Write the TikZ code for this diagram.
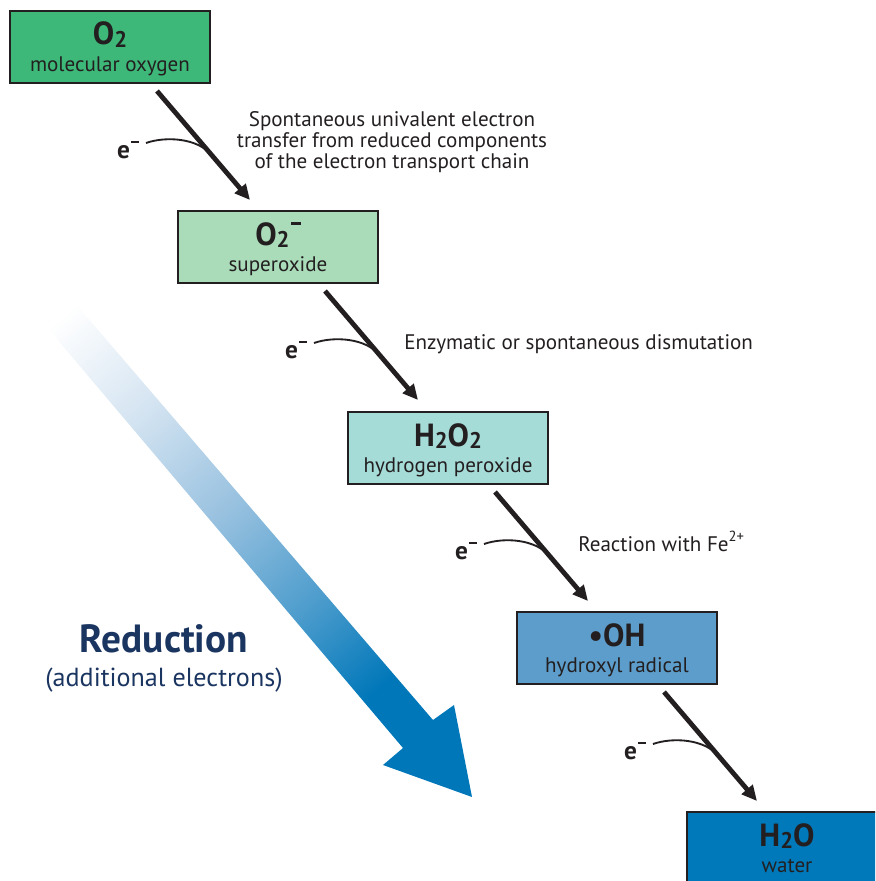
\documentclass[tikz,border=0pt]{standalone}
\usepackage{fontspec}
\setmainfont{PT Sans}
\usetikzlibrary{arrows.meta,calc}
\definecolor{boxA}{HTML}{3DB879}
\definecolor{boxB}{HTML}{AADCBA}
\definecolor{boxC}{HTML}{A6DCD8}
\definecolor{boxD}{HTML}{5D9DCB}
\definecolor{boxE}{HTML}{0079BA}
\definecolor{boxline}{HTML}{231F20}
\definecolor{ink}{HTML}{231F20}
\definecolor{navy}{HTML}{1B3561}
\definecolor{redblue}{HTML}{0077B9}
\definecolor{redA}{HTML}{D6E5F2}
\definecolor{redB}{HTML}{96C0DF}
\definecolor{redC}{HTML}{4E9DCD}
\pgfdeclarehorizontalshading{redshade}{100bp}{color(0bp)=(white); color(17bp)=(white); color(30bp)=(redA); color(45bp)=(redB); color(58bp)=(redC); color(70bp)=(redblue); color(100bp)=(redblue)}
\newcommand{\chemsub}[1]{\raisebox{-0.08em}{\fontsize{17}{17}\selectfont #1}}
\newcommand{\chemminus}{\kern0.05em\raisebox{0.62em}{\rule{0.3em}{0.09em}}}
\newcommand{\smallsup}[1]{\raisebox{0.45em}{\fontsize{11}{11}\selectfont #1}}
\tikzset{
  specbox/.style={draw=boxline, line width=1.5pt, minimum width=150pt, minimum height=54pt, inner sep=0pt},
  formula/.style={anchor=base, text=ink, inner sep=0pt, font=\bfseries\fontsize{24}{28}\selectfont},
  subtitle/.style={anchor=base, text=ink, inner sep=0pt, font=\fontsize{15.8}{18}\selectfont},
  flowarrow/.style={draw=ink, line width=3.6pt, -{Triangle[length=11.5pt,width=10.5pt]}},
  ecurve/.style={draw=ink, line width=1.4pt},
  elabel/.style={text=ink, inner sep=0pt, font=\bfseries\fontsize{19}{22}\selectfont},
  steplabel/.style={text=ink, inner sep=0pt, font=\fontsize{15.8}{15.75}\selectfont, align=center}
}
\begin{document}
\begin{tikzpicture}[x=0.75pt,y=-0.75pt]
\useasboundingbox (0,0) rectangle (875,881);
% big reduction arrow
\shade[shading=redshade, shading angle=-49.5]
  (45,325) -- (74,302) -- (433,720) -- (454,705) -- (472,797) -- (383,765) -- (403,748) -- cycle;
\node[font=\bfseries\fontsize{29.5}{34}\selectfont, text=navy, anchor=base] (red) at (164,652) {Reduction};
\node[font=\fontsize{19.6}{23}\selectfont, text=navy, anchor=base] (redsub) at (164,686) {(additional electrons)};
% boxes
\node[specbox, fill=boxA] (b1) at (110,47) {};
\node[specbox, fill=boxB] (b2) at (278,247) {};
\node[specbox, fill=boxC] (b3) at (448,448) {};
\node[specbox, fill=boxD] (b4) at (617,648) {};
\begin{scope}
\clip (0,0) rectangle (875,881);
\node[specbox, fill=boxE] (b5) at (787,848) {};
\end{scope}
\node[formula] (f1) at ($(b1.center)+(0,-2)$) {O\chemsub{2}};
\node[subtitle] (s1) at ($(b1.center)+(0,24)$) {molecular oxygen};
\node[formula] (f2) at ($(b2.center)+(0,-2)$) {O\chemsub{2}\chemminus};
\node[subtitle] (s2) at ($(b2.center)+(0,24)$) {superoxide};
\node[formula] (f3) at ($(b3.center)+(0,-2)$) {H\chemsub{2}O\chemsub{2}};
\node[subtitle] (s3) at ($(b3.center)+(0,24)$) {hydrogen peroxide};
\node[formula] (f4) at ($(b4.center)+(0,-2)$) {\textbullet OH};
\node[subtitle] (s4) at ($(b4.center)+(0,24)$) {hydroxyl radical};
\node[formula] (f5) at ($(b5.center)+(0,-2)$) {H\chemsub{2}O};
\node[subtitle] (s5) at ($(b5.center)+(0,24)$) {water};
% reaction arrows with electrons
\foreach \src/\k in {b1/1,b2/2,b3/3,b4/4}{
  \coordinate (st\k) at ($(\src.center)+(47,44)$);
  \coordinate (en\k) at ($(st\k)+(93,109)$);
  \draw[flowarrow] (st\k) -- (en\k);
  \node[elabel] (el\k) at ($(st\k)+(-29,59)$) {e\chemminus};
  \draw[ecurve] ($(st\k)+(-11,52)$) .. controls ($(st\k)+(9,45)$) and ($(st\k)+(41,47)$) .. ($(st\k)+(55,64.5)$);
}
% step labels
\node[steplabel] (t1) at (392,142) {Spontaneous univalent electron\\transfer from reduced components\\of the electron transport chain};
\node[steplabel, anchor=base west] (t2) at (404,349) {Enzymatic or spontaneous dismutation};
\node[steplabel, anchor=base west] (t3) at (578,551) {Reaction with Fe\smallsup{2+}};
\end{tikzpicture}
\end{document}
